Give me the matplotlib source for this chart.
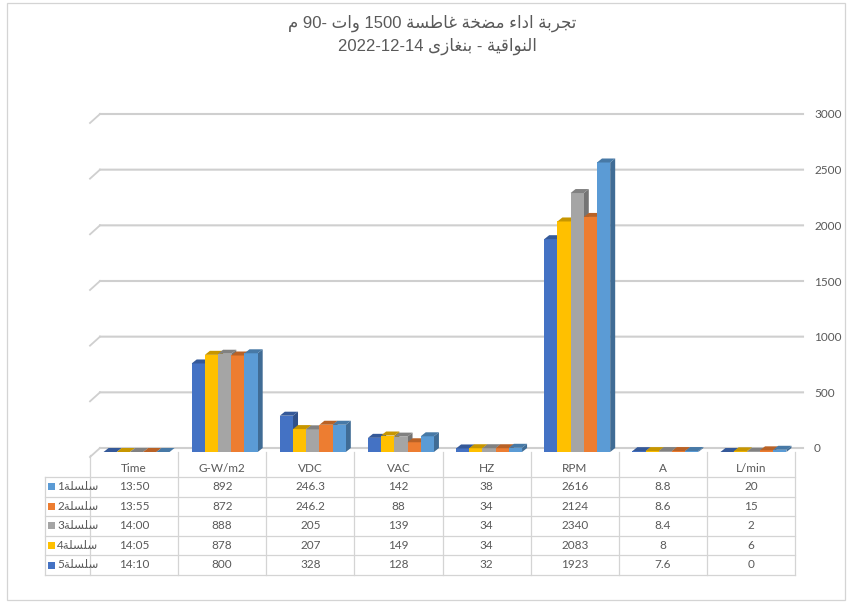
import matplotlib
matplotlib.use("Agg")
import matplotlib.pyplot as plt
from matplotlib.patches import Polygon, Rectangle
from matplotlib.lines import Line2D
import numpy as np

# ---------------- data ----------------
categories = ["Time", "G-W/m2", "VDC", "VAC", "HZ", "RPM", "A", "L/min"]
time_labels = ["13:50", "13:55", "14:00", "14:05", "14:10"]
series_names = ["سلسلة1", "سلسلة2", "سلسلة3", "سلسلة4", "سلسلة5"]
s1 = [0, 892, 246.3, 142, 38, 2616, 8.8, 20]
s2 = [0, 872, 246.2, 88, 34, 2124, 8.6, 15]
s3 = [0, 888, 205, 139, 34, 2340, 8.4, 2]
s4 = [0, 878, 207, 149, 34, 2083, 8, 6]
s5 = [0, 800, 328, 128, 32, 1923, 7.6, 0]
series_values = [s1, s2, s3, s4, s5]
series_colors = ["#5B9BD5", "#ED7D31", "#A5A5A5", "#FFC000", "#4472C4"]
yticks = [0, 500, 1000, 1500, 2000, 2500, 3000]
title1_tokens = ["تجربة", "اداء", "مضخة", "غاطسة", "1500", "وات", "-90", "م"]
title2_tokens = ["النواقية", "-", "بنغازى", "2022-12-14"]

# ---------------- minimal Arabic shaping ----------------
FORMS = {  # isolated, final, initial, medial
    '\u0621': ('\uFE80', None, None, None),
    '\u0627': ('\uFE8D', '\uFE8E', None, None),
    '\u0628': ('\uFE8F', '\uFE90', '\uFE91', '\uFE92'),
    '\u0629': ('\uFE93', '\uFE94', None, None),
    '\u062A': ('\uFE95', '\uFE96', '\uFE97', '\uFE98'),
    '\u062C': ('\uFE9D', '\uFE9E', '\uFE9F', '\uFEA0'),
    '\u062E': ('\uFEA5', '\uFEA6', '\uFEA7', '\uFEA8'),
    '\u062F': ('\uFEA9', '\uFEAA', None, None),
    '\u0631': ('\uFEAD', '\uFEAE', None, None),
    '\u0632': ('\uFEAF', '\uFEB0', None, None),
    '\u0633': ('\uFEB1', '\uFEB2', '\uFEB3', '\uFEB4'),
    '\u0636': ('\uFEBD', '\uFEBE', '\uFEBF', '\uFEC0'),
    '\u0637': ('\uFEC1', '\uFEC2', '\uFEC3', '\uFEC4'),
    '\u063A': ('\uFECD', '\uFECE', '\uFECF', '\uFED0'),
    '\u0642': ('\uFED5', '\uFED6', '\uFED7', '\uFED8'),
    '\u0644': ('\uFEDD', '\uFEDE', '\uFEDF', '\uFEE0'),
    '\u0645': ('\uFEE1', '\uFEE2', '\uFEE3', '\uFEE4'),
    '\u0646': ('\uFEE5', '\uFEE6', '\uFEE7', '\uFEE8'),
    '\u0648': ('\uFEED', '\uFEEE', None, None),
    '\u0649': ('\uFEEF', '\uFEF0', None, None),
    '\u064A': ('\uFEF1', '\uFEF2', '\uFEF3', '\uFEF4'),
}


def is_ar(ch):
    return ch in FORMS


def shape_word(word):
    out = []
    n = len(word)
    for i, ch in enumerate(word):
        if ch not in FORMS:
            out.append(ch)
            continue
        iso, fin, ini, med = FORMS[ch]
        prev = word[i - 1] if i > 0 else None
        nxt = word[i + 1] if i < n - 1 else None
        jp = prev is not None and prev in FORMS and FORMS[prev][2] is not None and fin is not None
        jn = nxt is not None and nxt in FORMS and FORMS[nxt][1] is not None and ini is not None
        if jp and jn:
            out.append(med)
        elif jp:
            out.append(fin)
        elif jn:
            out.append(ini)
        else:
            out.append(iso)
    return "".join(reversed(out))


def visual_token(tok):
    if any(is_ar(c) for c in tok):
        letters = "".join(c for c in tok if is_ar(c))
        digits = "".join(c for c in tok if not is_ar(c))
        return digits + shape_word(letters)
    if tok.startswith("-") and len(tok) > 1:
        return tok[1:] + "-"
    return tok


def visual_line(tokens):
    return " ".join(visual_token(t) for t in reversed(tokens))


# ---------------- figure ----------------
W, H = 848, 604
fig = plt.figure(figsize=(W / 100, H / 100), dpi=100)
fig.patch.set_facecolor("white")


def px_axes(x0, y0, x1, y1, **kw):
    return fig.add_axes([x0 / W, 1 - y1 / H, (x1 - x0) / W, (y1 - y0) / H], **kw)


GRID = "#D4D4D4"
GRID_WALL = "#CFCFCF"
TXT = "#595959"

# overlay (pixel coordinates) for title, table
ov = fig.add_axes([0, 0, 1, 1])
ov.set_xlim(0, W)
ov.set_ylim(H, 0)
ov.axis("off")
ov.patch.set_visible(False)

# back wall (value axis)
ax_back = px_axes(100, 114, 803, 448)
ax_back.set_xlim(0, 1)
ax_back.set_ylim(0, 3000)
ax_back.patch.set_visible(False)
for sp in ax_back.spines.values():
    sp.set_visible(False)
ax_back.set_xticks([])
ax_back.set_yticks(yticks)
ax_back.yaxis.tick_right()
ax_back.tick_params(axis="y", length=0, pad=8, labelsize=8.5, labelcolor=TXT)
for lab in ax_back.get_yticklabels():
    lab.set_family(["Lato", "DejaVu Sans"])

# front (bars)
ax = px_axes(90, 120, 795, 452)
ax.patch.set_visible(False)
ax.set_xlim(-0.5, len(categories) - 0.5)
ax.set_ylim(0, 3000)
ax.axis("off")

# gridlines: value -> pixel through the back-wall axes transform, drawn in the
# front axes (pixel transform) beneath the bars
to_ov = ax_back.transData + ov.transData.inverted()
for v in yticks:
    (xa, ya), (xb, yb) = to_ov.transform([(0, v), (1, v)])
    ax.add_line(Line2D([xa, xb], [ya, ya], color=GRID_WALL, lw=1.5, zorder=0.5,
                       transform=ov.transData, clip_on=False, snap=False))
    ax.add_line(Line2D([xa - 10, xa], [ya + 9, ya], color=GRID_WALL, lw=1.3, zorder=0.5,
                       transform=ov.transData, clip_on=False))

cat_px = 705 / len(categories)
val_per_px = 3000 / 332.0
dx = 5 / cat_px
dy = 4 * val_per_px
w = 13.2 / cat_px
shift = 2.5 / cat_px


def shade(c, f):
    rgb = np.array(matplotlib.colors.to_rgb(c))
    return tuple(rgb * f)


order = [4, 3, 2, 1, 0]  # series 5 .. series 1 left to right
z = 2
for i in range(len(categories)):
    for pos, k in enumerate(order):
        h = series_values[k][i]
        col = series_colors[k]
        x0 = i + shift + (pos - 2.5) * w
        x1 = x0 + w
        ax.add_patch(Polygon([(x1, 0), (x1, h), (x1 + dx, h + dy), (x1 + dx, dy)],
                             closed=True, facecolor=shade(col, 0.7), edgecolor="none", zorder=z))
        ax.bar(x0, h, width=w, align="edge", color=col, edgecolor="none", zorder=z + 0.1)
        ax.add_patch(Polygon([(x0, h), (x1, h), (x1 + dx, h + dy), (x0 + dx, h + dy)],
                             closed=True, facecolor=shade(col, 0.78), edgecolor="none", zorder=z + 0.2))
        z += 1

ov.add_patch(Rectangle((7, 3), 838, 597, fill=False, edgecolor=GRID, lw=0.9))

title_font = ["Liberation Sans", "DejaVu Sans"]
ov.text(432, 23, visual_line(title1_tokens), ha="center", va="center",
        fontsize=12, color=TXT, family=title_font)
ov.text(437, 46, visual_line(title2_tokens), ha="center", va="center",
        fontsize=12, color=TXT, family=title_font)

# data table
tbl_font = ["Lato", "DejaVu Sans"]
left_lab = 45
x_cols = [90 + cat_px * j for j in range(len(categories) + 1)]
y_rows = [457, 477, 496.5, 516, 535.5, 555, 575]
for j, xc in enumerate(x_cols):
    ov.plot([xc, xc], [455 if j == 0 else 452, y_rows[-1]], color=GRID, lw=0.9)
for r, yr in enumerate(y_rows[1:]):
    ov.plot([left_lab, x_cols[-1]], [yr, yr], color=GRID, lw=0.9)
ov.plot([left_lab, left_lab], [y_rows[1], y_rows[-1]], color=GRID, lw=0.9)

for j, cat in enumerate(categories):
    ov.text((x_cols[j] + x_cols[j + 1]) / 2, (y_rows[0] + y_rows[1]) / 2 + 1, cat,
            ha="center", va="center", fontsize=8.5, color=TXT, family=tbl_font)

for r in range(5):
    yc = (y_rows[r + 1] + y_rows[r + 2]) / 2
    ov.add_patch(Rectangle((48, yc - 3.5), 7, 7, facecolor=series_colors[r], edgecolor="none"))
    ov.text(57, yc, visual_token(series_names[r]), ha="left", va="center",
            fontsize=8.5, color=TXT, family=tbl_font)
    for j in range(len(categories)):
        txt = time_labels[r] if j == 0 else f"{series_values[r][j]:g}"
        ov.text((x_cols[j] + x_cols[j + 1]) / 2, yc, txt, ha="center", va="center",
                fontsize=8.5, color=TXT, family=tbl_font)

fig.savefig("out.png", dpi=100, facecolor="white")
